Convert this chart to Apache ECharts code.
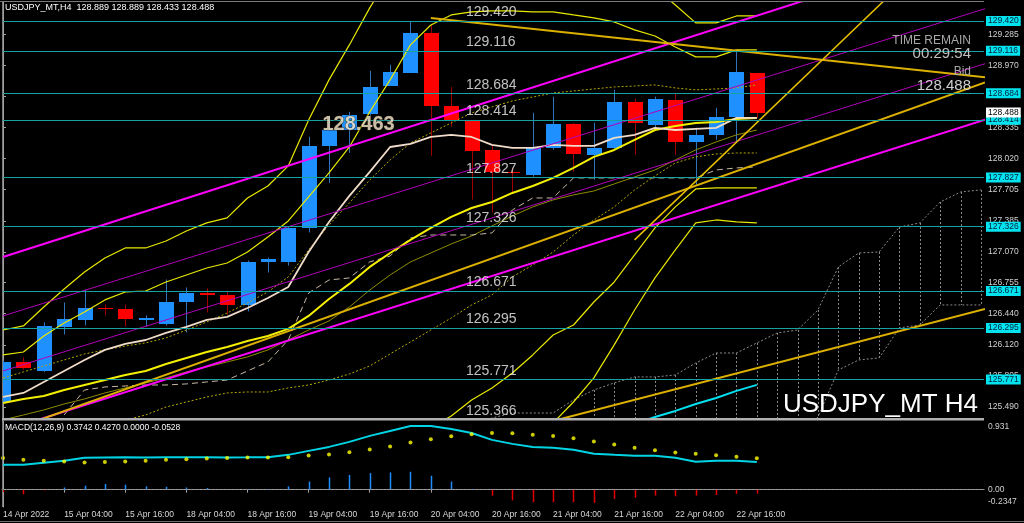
<!DOCTYPE html>
<html>
<head>
<meta charset="utf-8">
<script src="https://cdn.jsdelivr.net/npm/echarts@6/dist/echarts.min.js"></script>
<style>
html,body{margin:0;padding:0;background:#000;overflow:hidden;}
#chart{width:1024px;height:523px;}
</style>
</head>
<body>
<div id="chart"></div>
<script>
// ================= DATA =================
const dateLabels = ['14 Apr 2022','15 Apr 04:00','15 Apr 16:00','18 Apr 04:00','18 Apr 16:00','19 Apr 04:00','19 Apr 16:00','20 Apr 04:00','20 Apr 16:00','21 Apr 04:00','21 Apr 16:00','22 Apr 04:00','22 Apr 16:00'];
const dateTickIndex = [0,3,6,9,12,15,18,21,24,27,30,33,36];
const priceTicks = [129.285,128.970,128.655,128.335,128.020,127.705,127.385,127.070,126.755,126.440,126.120,125.805,125.490];

const candleOpen  = [125.538,125.944,125.853,126.300,126.371,126.493,126.483,126.371,126.331,126.564,126.646,126.635,126.524,126.971,126.971,127.316,128.150,128.312,128.475,128.759,128.892,129.298,128.556,128.404,128.109,127.885,127.855,128.129,128.373,128.058,128.129,128.597,128.363,128.617,128.190,128.261,128.444,128.889];
const candleClose = [125.944,125.883,126.310,126.381,126.493,126.483,126.381,126.391,126.564,126.646,126.630,126.524,126.971,127.001,127.316,128.150,128.312,128.465,128.749,128.902,129.298,128.556,128.404,128.099,127.885,127.870,128.140,128.373,128.068,128.129,128.597,128.383,128.627,128.190,128.261,128.444,128.902,128.488];
const candleLow   = [125.520,125.870,125.845,126.229,126.320,126.422,126.310,126.310,126.320,126.249,126.453,126.432,126.463,126.859,126.930,127.266,127.774,128.078,128.454,128.759,128.892,128.048,128.343,127.601,127.469,127.672,127.835,128.109,127.885,127.804,128.109,128.058,128.333,128.058,127.753,128.211,128.180,128.433];
const candleHigh  = [125.960,125.995,126.351,126.554,126.686,126.534,126.534,126.422,126.788,126.707,126.700,126.666,126.981,127.011,127.327,128.241,128.454,128.495,128.912,128.973,129.420,129.380,128.749,128.404,128.160,127.920,128.485,128.648,128.383,128.383,128.719,128.627,128.650,128.688,128.333,128.536,129.116,128.889];

// moving average / bands (index 0..37)
const maBeige   = [125.592,125.633,125.745,125.857,125.969,126.071,126.132,126.172,126.244,126.305,126.376,126.407,126.498,126.600,126.712,127.068,127.374,127.639,127.883,128.137,128.168,128.239,128.260,128.239,128.158,128.127,128.127,128.158,128.148,128.148,128.229,128.260,128.331,128.310,128.321,128.331,128.433,128.433];
const maDotted  = [125.786,125.847,125.908,125.969,126.030,126.071,126.111,126.142,126.193,126.274,126.356,126.447,126.549,126.661,126.814,127.089,127.343,127.567,127.801,128.005,128.178,128.280,128.382,128.484,128.545,128.606,128.646,128.687,128.707,128.728,128.748,128.758,128.769,128.738,128.718,128.728,128.738,128.769];
const band1Up   = [126.020,126.050,126.213,126.346,126.458,126.580,126.661,126.671,126.763,126.834,126.905,126.956,127.068,127.221,127.384,127.628,127.873,128.137,128.494,128.820,129.176,129.379,129.481,129.512,129.522,129.522,129.512,129.512,129.481,129.451,129.410,129.329,129.267,129.155,129.054,129.054,129.125,129.125];
const band1Dn   = [125.531,125.572,125.602,125.663,125.714,125.765,125.816,125.857,125.928,125.989,126.050,126.101,126.162,126.213,126.285,126.417,126.590,126.743,126.916,127.058,127.191,127.313,127.425,127.516,127.577,127.669,127.740,127.822,127.924,128.036,128.107,128.209,128.310,128.351,128.382,128.392,128.422,128.433];
const band2Up   = [126.274,126.315,126.508,126.692,126.865,127.007,127.109,127.109,127.180,127.282,127.364,127.415,127.618,127.740,127.944,128.412,128.820,129.176,129.553,129.889,130.194,130.347,130.398,130.398,130.347,130.296,130.245,130.225,130.194,130.143,130.062,129.939,129.756,129.583,129.400,129.400,129.471,129.471];
const band2Dn   = [125.256,125.266,125.277,125.287,125.297,125.317,125.358,125.409,125.490,125.541,125.592,125.633,125.643,125.643,125.684,125.714,125.765,125.826,125.908,126.030,126.152,126.274,126.396,126.529,126.631,126.814,126.936,127.068,127.241,127.394,127.527,127.700,127.842,127.975,128.036,128.066,128.076,128.076];
const maOlive   = [125.358,125.409,125.460,125.521,125.572,125.633,125.684,125.735,125.786,125.847,125.898,125.949,126.000,126.071,126.172,126.274,126.366,126.508,126.681,126.834,126.967,127.058,127.150,127.231,127.333,127.435,127.527,127.598,127.649,127.689,127.761,127.832,127.903,128.005,128.107,128.188,128.260,128.310];
const band3DnStart = 20;
const band3Dn   = [125.103,125.277,125.399,125.562,125.684,125.836,126.020,126.223,126.325,126.559,126.763,127.038,127.313,127.527,127.710,127.720,127.720,127.720];
const band4DnStart = 26;
const band4Dn   = [125.103,125.327,125.541,125.786,126.122,126.478,126.804,127.089,127.364,127.394,127.374,127.364];
const kijunStart = 3;
const kijun     = [125.409,125.663,125.694,125.704,125.714,125.714,125.725,125.745,125.765,125.857,125.949,126.172,126.651,126.783,126.804,126.967,127.028,127.211,127.241,127.241,127.241,127.262,127.496,127.618,127.618,127.822,127.822,127.822,127.822,127.822,127.822,127.822,127.903,127.924,127.934];
const cloudStart = 23;
const cloudSpanA = [125.307,125.378,125.429,125.429,125.429,125.562,125.663,125.735,125.796,125.796,125.816,125.938,126.040,126.040,126.142,126.244,126.274,126.478,126.916,127.058,127.068,127.323,127.364,127.577,127.679,127.700];
const cloudSpanB = [124.700,124.720,124.740,124.750,124.770,124.780,124.800,124.820,124.840,124.850,124.870,124.880,124.890,124.900,124.920,124.951,125.154,125.389,125.867,125.969,125.989,126.295,126.325,126.529,126.529,126.529];
const hatchStart = 29;
const cyanStart = 31;
const cyanLine  = [125.317,125.389,125.450,125.521,125.582,125.654,125.715];

// straight trend / channel lines: [index, price] end points
const chanUpper  = [[0,127.017],[48.2,130.217]];
const chanMidUp  = [[0,126.417],[48.2,129.545]];
const chanMidDn  = [[0,125.857],[48.2,128.985]];
const chanLower  = [[0,125.246],[48.2,128.415]];
const trendDown  = [[21,129.451],[48.2,128.846]];
const trendUp    = [[0,125.226],[48.2,128.794]];
const trendLow   = [[27,125.348],[48.2,126.489]];
const trendSteep = [[31,127.191],[44,129.777]];

const levels = [129.420,129.116,128.684,128.414,127.827,127.326,126.671,126.295,125.771,125.366];
const bidPrice = 128.488;

// MACD(12,26,9)
const macdMain   = [0.337,0.337,0.364,0.391,0.432,0.435,0.438,0.436,0.438,0.440,0.440,0.437,0.438,0.441,0.472,0.526,0.580,0.648,0.729,0.796,0.864,0.864,0.823,0.769,0.675,0.621,0.580,0.567,0.540,0.486,0.472,0.459,0.459,0.432,0.378,0.391,0.391,0.3742];
const macdSignal = [0.428,0.405,0.391,0.382,0.368,0.374,0.382,0.391,0.405,0.414,0.422,0.428,0.436,0.436,0.441,0.463,0.476,0.508,0.544,0.584,0.638,0.684,0.725,0.752,0.769,0.765,0.746,0.729,0.698,0.652,0.611,0.567,0.536,0.503,0.486,0.468,0.445,0.427];
const macdHist   = [-0.03,-0.063,-0.01,0.03,0.054,0.077,0.067,0.045,0.04,0.03,0.022,0.01,0.005,0.005,0.045,0.11,0.166,0.2,0.225,0.234,0.243,0.189,0.11,0.01,-0.081,-0.145,-0.171,-0.171,-0.171,-0.18,-0.126,-0.108,-0.081,-0.09,-0.081,-0.072,-0.054,-0.0528];
const macdTickValues = [0.931, 0, -0.2347];
const macdTickText   = ['0.931', '0.00', '-0.2347'];

// ================= CHART =================
const FONT = '"Liberation Sans", Arial, "DejaVu Sans", sans-serif';
const X_MIN = -0.05, X_MAX = 48.15;
const Y_MIN = 125.378, Y_MAX = 129.613;
const LEVEL_LABEL_X = 22.75;

const chart = echarts.init(document.getElementById('chart'), null, {renderer: 'canvas', width: 1024, height: 523});

const idx = (start, arr) => arr.map((v, k) => [start + k, v]);
const candleData = candleOpen.map((o, i) => [i, o, candleClose[i], candleLow[i], candleHigh[i]]);

function ln(data, color, width, type, z) {
  return {type: 'line', xAxisIndex: 0, yAxisIndex: 0, data: data, symbol: 'none', silent: true,
    animation: false, z: z || 3, clip: true, lineStyle: {color: color, width: width, type: type || 'solid'}};
}
function clipRect(cs) { return {type: 'rect', shape: {x: cs.x, y: cs.y, width: cs.width, height: cs.height}}; }

const series = [];

// Ichimoku cloud hatch
const hatchData = [];
for (let i = hatchStart; i < cloudStart + cloudSpanA.length; i++) {
  hatchData.push([i, cloudSpanA[i - cloudStart], cloudSpanB[i - cloudStart]]);
}
series.push({
  type: 'custom', xAxisIndex: 0, yAxisIndex: 0, data: hatchData, z: 1, silent: true, animation: false,
  renderItem: function (params, api) {
    const a = api.coord([api.value(0), api.value(1)]);
    const b = api.coord([api.value(0), api.value(2)]);
    const x = Math.round(a[0]) + 0.5;
    return {type: 'group', clipPath: clipRect(params.coordSys), children: [
      {type: 'line', shape: {x1: x, y1: a[1], x2: x, y2: b[1]}, style: {stroke: '#8a8a8a', lineWidth: 1, lineDash: [2, 2]}}
    ]};
  }
});
series.push(ln(idx(cloudStart, cloudSpanA), '#8a8a8a', 1, [2, 2], 1));
series.push(ln(idx(cloudStart, cloudSpanB), '#8a8a8a', 1, [2, 2], 1));

// Candles
series.push({
  type: 'custom', xAxisIndex: 0, yAxisIndex: 0, data: candleData, z: 2, silent: true, animation: false,
  encode: {x: 0, y: [1, 2, 3, 4]},
  renderItem: function (params, api) {
    const i = api.value(0), o = api.value(1), c = api.value(2), l = api.value(3), h = api.value(4);
    const pO = api.coord([i, o]), pC = api.coord([i, c]), pL = api.coord([i, l]), pH = api.coord([i, h]);
    const w = Math.round(api.size([1, 0])[0] * 0.74);
    const up = c >= o;
    const xc = Math.round(pO[0]);
    const top = Math.round(Math.min(pO[1], pC[1])), bot = Math.round(Math.max(pO[1], pC[1]));
    return {type: 'group', clipPath: clipRect(params.coordSys), children: [
      {type: 'line', shape: {x1: xc + 0.5, y1: pH[1], x2: xc + 0.5, y2: pL[1]}, style: {stroke: up ? '#2f74bd' : '#a00000', lineWidth: 1}},
      {type: 'rect', shape: {x: xc - Math.floor(w / 2), y: top, width: w, height: Math.max(1, bot - top)}, style: {fill: up ? '#1e90ff' : '#ff0000'}}
    ]};
  }
});

// indicator curves
series.push(ln(idx(0, maOlive), '#8c8c00', 1));
series.push(ln(idx(kijunStart, kijun), '#c8b8a4', 1, [6, 4]));
series.push(ln(idx(0, band2Dn), '#b4a800', 1, [2, 2]));
series.push(ln(idx(0, maDotted), '#b4a800', 1, [2, 2]));
series.push(ln(idx(0, band1Up), '#e8e800', 1.2));
series.push(ln(idx(0, band2Up), '#e8e800', 1.2));
series.push(ln(idx(band3DnStart, band3Dn), '#e8e800', 1.2));
series.push(ln(idx(band4DnStart, band4Dn), '#e8e800', 1.2));
series.push(ln(idx(0, band1Dn), '#f4f000', 2));
series.push(ln(idx(0, maBeige), '#f0dcc8', 1.8));
series.push(ln(idx(cyanStart, cyanLine), '#00e0f0', 2));

// channels & trend lines
series.push(ln(chanMidUp, '#b000b8', 1, 'solid', 4));
series.push(ln(chanMidDn, '#b000b8', 1, 'solid', 4));
series.push(ln(chanUpper, '#ff00ff', 2, 'solid', 4));
series.push(ln(chanLower, '#ff00ff', 2, 'solid', 4));
series.push(ln(trendDown, '#dcb000', 2, 'solid', 4));
series.push(ln(trendUp, '#dcb000', 2, 'solid', 4));
series.push(ln(trendLow, '#dcb000', 2, 'solid', 4));
series.push(ln(trendSteep, '#e8c000', 1.5, 'solid', 4));

// horizontal levels + right axis boxes
series.push({
  type: 'line', xAxisIndex: 0, yAxisIndex: 0, data: [], z: 5, silent: true, animation: false,
  markLine: {
    symbol: 'none', silent: true, animation: false, precision: 3,
    lineStyle: {color: '#17a2a2', width: 1, type: 'solid'},
    label: {show: true, position: 'end', distance: 2, formatter: '{b}',
      backgroundColor: '#00e4f0', color: '#00203a', fontSize: 8.5, fontFamily: FONT, padding: [1, 2, 0, 2]},
    data: levels.filter(v => v >= Y_MIN).map(v => ({yAxis: v, name: v.toFixed(3)}))
  }
});
series.push({
  type: 'line', xAxisIndex: 0, yAxisIndex: 0, data: [], z: 4, silent: true, animation: false,
  markLine: {
    symbol: 'none', silent: true, animation: false, precision: 3,
    lineStyle: {color: 'rgba(0,0,0,0)', width: 0},
    label: {show: true, position: 'end', distance: 2, formatter: '{b}',
      backgroundColor: '#ffffff', color: '#000000', fontSize: 8.5, fontFamily: FONT, padding: [1, 2, 0, 2]},
    data: [{yAxis: bidPrice, name: bidPrice.toFixed(3)}]
  }
});
// in-chart level labels
series.push({
  type: 'scatter', xAxisIndex: 0, yAxisIndex: 0, z: 6, silent: true, animation: false, clip: false,
  symbolSize: 1, itemStyle: {color: 'rgba(0,0,0,0)'},
  data: levels.map(v => [LEVEL_LABEL_X, v]),
  label: {show: true, position: [0, -1], align: 'left', verticalAlign: 'bottom',
    formatter: p => p.value[1].toFixed(3), color: '#f0f0f0', fontSize: 14, fontFamily: FONT}
});
// annotation 128.463
series.push({
  type: 'scatter', xAxisIndex: 0, yAxisIndex: 0, z: 6, silent: true, animation: false,
  symbolSize: 1, itemStyle: {color: 'rgba(0,0,0,0)'},
  data: [[15.7, 128.361]],
  label: {show: true, position: [0, 0], align: 'left', verticalAlign: 'middle',
    formatter: '128.463', color: '#fbecd0', fontSize: 20, fontWeight: 'bold', fontFamily: FONT,
    textBorderColor: '#2a2418', textBorderWidth: 1}
});

// MACD
series.push({
  type: 'custom', xAxisIndex: 1, yAxisIndex: 1, data: idx(0, macdHist), z: 2, silent: true, animation: false,
  renderItem: function (params, api) {
    const v = api.value(1);
    const p0 = api.coord([api.value(0), 0]), p1 = api.coord([api.value(0), v]);
    const x = Math.round(p0[0]) + 0.5;
    return {type: 'line', shape: {x1: x, y1: p0[1], x2: x, y2: p1[1]}, style: {stroke: v >= 0 ? '#1e8cff' : '#e00000', lineWidth: 1.5}};
  },
  markLine: {symbol: 'none', silent: true, animation: false, label: {show: false},
    lineStyle: {color: '#8c8c8c', width: 1, type: [2, 2]}, data: [{yAxis: 0}]}
});
series.push({type: 'line', xAxisIndex: 1, yAxisIndex: 1, data: idx(0, macdMain), symbol: 'none', silent: true, animation: false, z: 3,
  lineStyle: {color: '#00d4e4', width: 2}});
series.push({type: 'scatter', xAxisIndex: 1, yAxisIndex: 1, data: idx(0, macdSignal), symbol: 'circle', symbolSize: 4, silent: true, animation: false, z: 4,
  itemStyle: {color: '#ffff00'}});

const graphics = [
  {type: 'line', shape: {x1: 0, y1: 1.5, x2: 984, y2: 1.5}, style: {stroke: '#7a7a7a', lineWidth: 1}, z: 10},
  {type: 'line', shape: {x1: 2.5, y1: 1, x2: 2.5, y2: 507}, style: {stroke: '#7a7a7a', lineWidth: 1}, z: 10},
  {type: 'rect', shape: {x: 2, y: 418, width: 982, height: 2.5}, style: {fill: '#b0b0b0'}, z: 10},
  {type: 'line', shape: {x1: 0, y1: 521.5, x2: 1024, y2: 521.5}, style: {stroke: '#6a6a6a', lineWidth: 1}, z: 10},
  {type: 'text', x: 5, y: 8, z: 10, style: {text: 'USDJPY_MT,H4  128.889 128.889 128.433 128.488', fill: '#ffffff', font: '9px ' + FONT, verticalAlign: 'middle'}},
  {type: 'text', x: 5, y: 428, z: 10, style: {text: 'MACD(12,26,9) 0.3742 0.4270 0.0000 -0.0528', fill: '#ffffff', font: '8.5px ' + FONT, verticalAlign: 'middle'}},
  {type: 'text', x: 971, y: 41, z: 10, style: {text: 'TIME REMAIN', fill: '#a8a8a8', font: '12px ' + FONT, align: 'right', verticalAlign: 'middle'}},
  {type: 'text', x: 971, y: 54, z: 10, style: {text: '00:29:54', fill: '#c0c0c0', font: '15px ' + FONT, align: 'right', verticalAlign: 'middle'}},
  {type: 'text', x: 971, y: 72, z: 10, style: {text: 'Bid', fill: '#a8a8a8', font: '12px ' + FONT, align: 'right', verticalAlign: 'middle'}},
  {type: 'text', x: 971, y: 86, z: 10, style: {text: '128.488', fill: '#d0d0d0', font: '15px ' + FONT, align: 'right', verticalAlign: 'middle'}},
  {type: 'text', x: 978, y: 405, z: 10, style: {text: 'USDJPY_MT H4', fill: '#ffffff', font: '26px ' + FONT, align: 'right', verticalAlign: 'middle'}}
];

const option = {
  backgroundColor: '#000000',
  animation: false,
  grid: [
    {left: 2, top: 2, width: 982, height: 416},
    {left: 2, top: 421, width: 982, height: 86}
  ],
  xAxis: [
    {type: 'value', gridIndex: 0, min: X_MIN, max: X_MAX, show: false},
    {type: 'value', gridIndex: 1, min: X_MIN, max: X_MAX,
      axisLine: {show: true, lineStyle: {color: '#a0a0a0'}},
      axisTick: {show: true, customValues: dateTickIndex, length: 3, lineStyle: {color: '#a0a0a0'}},
      axisLabel: {show: true, customValues: dateTickIndex, formatter: v => dateLabels[dateTickIndex.indexOf(Math.round(v))] || '',
        align: 'left', color: '#d8d8d8', fontSize: 8.5, fontFamily: FONT, margin: 3},
      splitLine: {show: false}}
  ],
  yAxis: [
    {type: 'value', gridIndex: 0, position: 'right', min: Y_MIN, max: Y_MAX,
      axisLine: {show: true, lineStyle: {color: '#a0a0a0'}},
      axisTick: {show: true, customValues: priceTicks, length: 3, inside: false, lineStyle: {color: '#a0a0a0'}},
      axisLabel: {show: true, customValues: priceTicks, formatter: v => Number(v).toFixed(3), color: '#d0d0d0', fontSize: 8.5, fontFamily: FONT, margin: 4},
      splitLine: {show: false}},
    {type: 'value', gridIndex: 1, position: 'right', min: -0.2347, max: 0.931,
      axisLine: {show: true, lineStyle: {color: '#a0a0a0'}},
      axisTick: {show: false}, axisLabel: {show: false}, splitLine: {show: false}}
  ],
  graphic: graphics,
  series: series
};
chart.setOption(option);

// MACD scale labels
const extra = macdTickValues.map((v, k) => {
  const y = chart.convertToPixel({yAxisIndex: 1}, v);
  const va = k === 0 ? 'top' : (k === macdTickValues.length - 1 ? 'bottom' : 'middle');
  return {type: 'text', x: 988, y: y + (k === 0 ? 1 : (k === macdTickValues.length - 1 ? -1 : 0)), z: 10,
    style: {text: macdTickText[k], fill: '#d0d0d0', font: '8.5px ' + FONT, verticalAlign: va}};
});
chart.setOption({graphic: graphics.concat(extra)});
</script>
</body>
</html>
